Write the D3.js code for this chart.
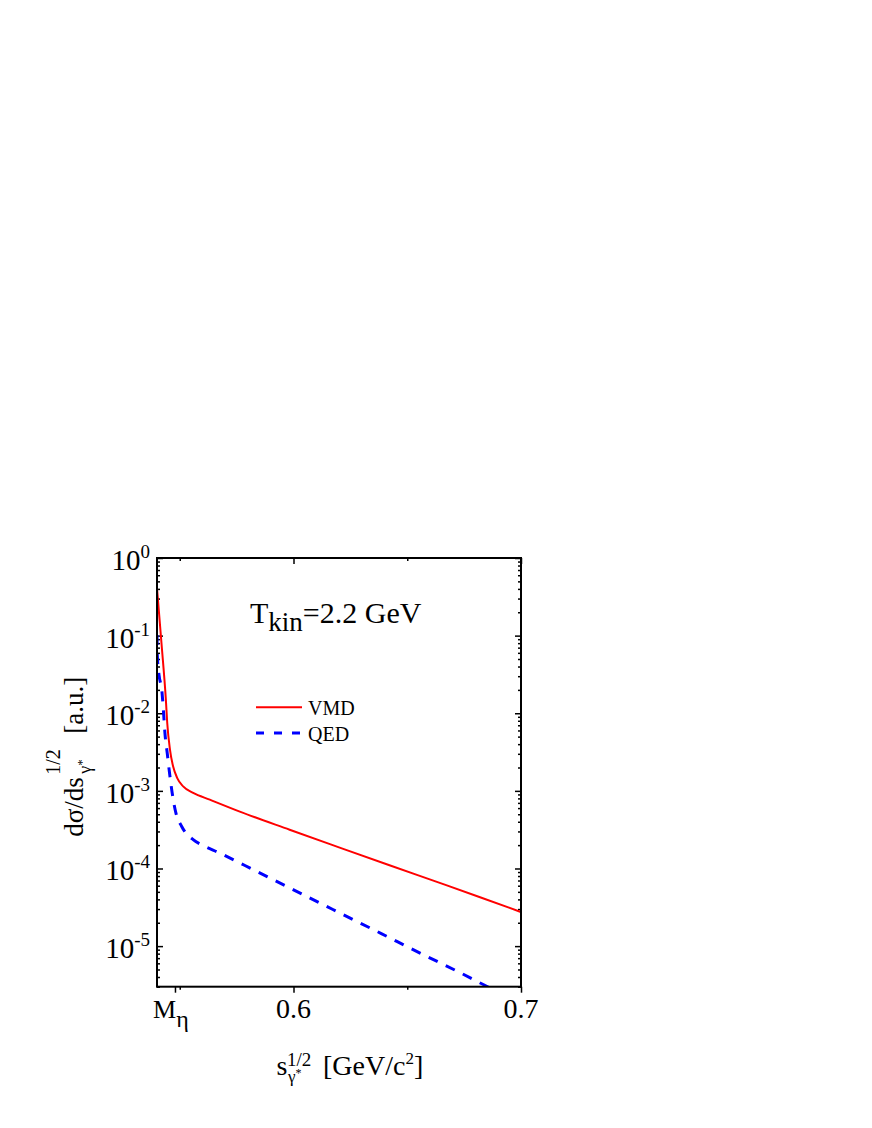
<!DOCTYPE html>
<meta charset="utf-8">
<style>
body { margin: 0; background: #fff; }
text { font-family: "Liberation Serif", "Times New Roman", serif; fill: #000; }
.tick line { stroke: #000; stroke-width: 1.5px; }
.curve { fill: none; }
</style>
<body>
<script src="https://d3js.org/d3.v7.min.js"></script>
<script>

// data
var vmdX = [0.5400, 0.5420, 0.5439, 0.5445, 0.5457, 0.5471, 0.5489, 0.5515, 0.5559, 0.5632, 0.5764, 0.5983, 0.6203, 0.6422, 0.6671, 0.6817, 0.7000];
var vmdY = [0.41, 0.078, 0.0149, 7.5e-3, 3.4e-3, 2.06e-3, 1.46e-3, 1.14e-3, 9.4e-4, 7.7e-4, 5.4e-4, 3.16e-4, 1.86e-4, 1.10e-4, 6.1e-5, 4.3e-5, 2.75e-5];

var qedX = [0.5400, 0.5401, 0.5409, 0.5421, 0.5428, 0.5435, 0.5445, 0.5457, 0.5469, 0.5483, 0.5508, 0.5559, 0.5596, 0.5676, 0.5837, 0.5998, 0.6173, 0.6386, 0.6554, 0.6729, 0.6834, 0.7000];
var qedY = [0.102, 0.059, 0.031, 0.020, 0.0111, 5.5e-3, 3.06e-3, 1.53e-3, 8.5e-4, 5.2e-4, 3.5e-4, 2.35e-4, 2.02e-4, 1.58e-4, 9.2e-5, 5.35e-5, 2.96e-5, 1.45e-5, 8.2e-6, 4.6e-6, 3.2e-6, 1.86e-6];

var xMajor = [0.6, 0.7];
var xMajorLabels = ["0.6", "0.7"];
var xMinor = [0.55, 0.65];
var mEta = 0.5479;
var yExps = [0, -1, -2, -3, -4, -5];

// plot box (window.top is reserved, so use other names)
var boxL = 157, boxR = 521, boxT = 558, boxB = 986.7;

var x = d3.scaleLinear().domain([0.54, 0.7]).range([boxL, boxR]);
var y = d3.scaleLog().domain([3e-6, 1]).range([boxB, boxT]);

var yMajor = yExps.map(function(e) { return Math.pow(10, e); });
var yMinor = [];
for (var e = -6; e < 0; e++) {
  for (var k = 2; k <= 9; k++) {
    var v = k * Math.pow(10, e);
    if (v >= 3e-6 && v < 1) yMinor.push(v);
  }
}

var svg = d3.select("body").append("svg")
    .attr("width", 872)
    .attr("height", 1128);

svg.append("clipPath").attr("id", "clip")
  .append("rect")
    .attr("x", boxL).attr("y", boxT)
    .attr("width", boxR - boxL).attr("height", boxB - boxT);

// ticks
function addAxis(axis, tx, ty) {
  var g = svg.append("g")
      .attr("transform", "translate(" + tx + "," + ty + ")")
      .call(axis);
  g.select(".domain").remove();
  g.selectAll("text").remove();
}
addAxis(d3.axisBottom(x).tickValues([mEta].concat(xMajor)).tickSize(6).tickFormat(""), 0, boxB);
addAxis(d3.axisBottom(x).tickValues(xMinor).tickSize(3).tickFormat(""), 0, boxB);
addAxis(d3.axisTop(x).tickValues(xMajor).tickSize(-6).tickFormat(""), 0, boxT);
addAxis(d3.axisTop(x).tickValues(xMinor).tickSize(-3).tickFormat(""), 0, boxT);
addAxis(d3.axisLeft(y).tickValues(yMajor).tickSize(-6).tickFormat(""), boxL, 0);
addAxis(d3.axisLeft(y).tickValues(yMinor).tickSize(-3).tickFormat(""), boxL, 0);
addAxis(d3.axisRight(y).tickValues(yMajor).tickSize(-6).tickFormat(""), boxR, 0);
addAxis(d3.axisRight(y).tickValues(yMinor).tickSize(-3).tickFormat(""), boxR, 0);

// curves
var line = d3.line()
    .x(function(d) { return x(d[0]); })
    .y(function(d) { return y(d[1]); })
    .curve(d3.curveMonotoneX);

var plot = svg.append("g").attr("clip-path", "url(#clip)");

plot.append("path")
    .datum(vmdX.map(function(v, i) { return [v, vmdY[i]]; }))
    .attr("class", "curve")
    .attr("stroke", "#ff0000")
    .attr("stroke-width", 2)
    .attr("d", line);

plot.append("path")
    .datum(qedX.map(function(v, i) { return [v, qedY[i]]; }))
    .attr("class", "curve")
    .attr("stroke", "#0000ff")
    .attr("stroke-width", 3)
    .attr("stroke-dasharray", "10,9")
    .attr("d", line);

// frame
svg.append("rect")
    .attr("x", boxL).attr("y", boxT)
    .attr("width", boxR - boxL).attr("height", boxB - boxT)
    .attr("fill", "none")
    .attr("stroke", "#000")
    .attr("stroke-width", 2);

// y tick labels
yExps.forEach(function(e) {
  var t = svg.append("text")
      .attr("x", 150)
      .attr("y", y(Math.pow(10, e)) + 12)
      .attr("text-anchor", "end")
      .attr("font-size", 29);
  t.append("tspan").text("10");
  t.append("tspan").attr("font-size", 19).attr("dy", -12).text(e === 0 ? "0" : "-" + (-e));
});

// x tick labels
xMajor.forEach(function(v, i) {
  svg.append("text")
      .attr("x", x(v))
      .attr("y", 1018)
      .attr("text-anchor", "middle")
      .attr("font-size", 28)
      .text(xMajorLabels[i]);
});
var mt = svg.append("text")
    .attr("x", 153)
    .attr("y", 1018)
    .attr("font-size", 26);
mt.append("tspan").text("M");
mt.append("tspan").attr("font-size", 24).attr("dy", 9).text("η");

// x axis title
var xt = svg.append("text").attr("y", 1075).attr("font-size", 28);
xt.append("tspan").attr("x", 276.5).text("s");
xt.append("tspan").attr("x", 287).attr("y", 1066).attr("font-size", 19).text("1/2");
xt.append("tspan").attr("x", 288).attr("y", 1082).attr("font-size", 17).text("γ");
xt.append("tspan").attr("y", 1077).attr("font-size", 12).text("*");
xt.append("tspan").attr("x", 323).attr("y", 1075).text("[GeV/c");
xt.append("tspan").attr("dy", -11).attr("font-size", 17).text("2");
xt.append("tspan").attr("dy", 11).text("]");

// y axis title
var yt = svg.append("g")
    .attr("transform", "translate(83,836.7) rotate(-90)")
  .append("text")
    .attr("font-size", 27);
yt.append("tspan").attr("x", 0).attr("y", 0).text("dσ/ds");
yt.append("tspan").attr("x", 62).attr("y", -23).attr("font-size", 20).text("1/2");
yt.append("tspan").attr("x", 63).attr("y", 7.5).attr("font-size", 18).text("γ");
yt.append("tspan").attr("y", 3).attr("font-size", 13).text("*");
yt.append("tspan").attr("x", 103).attr("y", 0).text("[a.u.]");

// annotation
var tt = svg.append("text")
    .attr("x", 250)
    .attr("y", 623.3)
    .attr("font-size", 30);
tt.append("tspan").text("T");
tt.append("tspan").attr("font-size", 27).attr("dy", 8).text("kin");
tt.append("tspan").attr("dy", -8).text("=2.2 GeV");

// legend
var legend = [
  {name: "VMD", color: "#ff0000", width: 2, dash: null, y: 707.3},
  {name: "QED", color: "#0000ff", width: 3, dash: "8,10", y: 733}
];
legend.forEach(function(d) {
  svg.append("line")
      .attr("x1", 256).attr("x2", 302)
      .attr("y1", d.y).attr("y2", d.y)
      .attr("stroke", d.color)
      .attr("stroke-width", d.width)
      .attr("stroke-dasharray", d.dash);
  svg.append("text")
      .attr("x", 308)
      .attr("y", d.y + 7.5)
      .attr("font-size", 20)
      .text(d.name);
});

</script>
</body>
